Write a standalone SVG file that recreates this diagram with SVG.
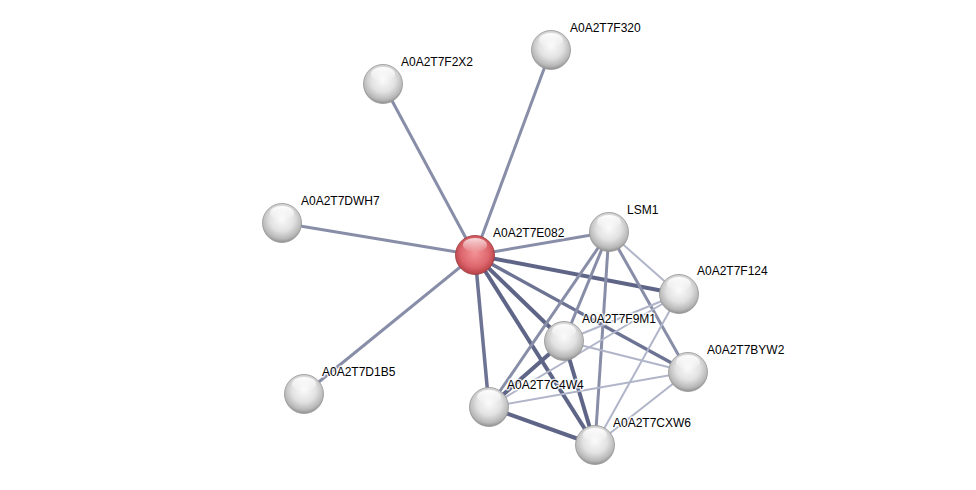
<svg xmlns="http://www.w3.org/2000/svg" width="976" height="490" viewBox="0 0 976 490">
<defs>
<radialGradient id="gw" cx="0.5" cy="0.4" r="0.62">
<stop offset="0" stop-color="#fbfbfb"/>
<stop offset="0.5" stop-color="#e2e2e2"/>
<stop offset="0.82" stop-color="#b8b8b8"/>
<stop offset="1" stop-color="#868686"/>
</radialGradient>
<radialGradient id="gr" cx="0.5" cy="0.45" r="0.6">
<stop offset="0" stop-color="#f29296"/>
<stop offset="0.6" stop-color="#dd666c"/>
<stop offset="0.88" stop-color="#bb454b"/>
<stop offset="1" stop-color="#8f2e33"/>
</radialGradient>
<linearGradient id="hl" x1="0" y1="0" x2="0" y2="1">
<stop offset="0" stop-color="#ffffff" stop-opacity="0.95"/>
<stop offset="1" stop-color="#ffffff" stop-opacity="0.05"/>
</linearGradient>
</defs>
<style>
.e{fill:none;stroke-linecap:butt}
.m{stroke:#898ea8;stroke-width:3}
.d{stroke:#5f6587;stroke-width:4}
.dm{stroke:#6d7393;stroke-width:3.5}
.l{stroke:#b1b5c9;stroke-width:2}
.nw{fill:url(#gw);stroke:#959595;stroke-width:0.8}
.nr{fill:url(#gr);stroke:#9a3a3f;stroke-width:0.8}
.h{fill:url(#hl)}
text{font-family:"Liberation Sans",Arial,sans-serif;font-size:12px;fill:#000;stroke:#ffffff;stroke-opacity:0.8;stroke-width:3;stroke-linejoin:round;paint-order:stroke}
</style>
<rect width="976" height="490" fill="#ffffff"/>
<g id="connectors">
<line class="e m" x1="475" y1="255" x2="551" y2="50"/>
<line class="e m" x1="475" y1="255" x2="383" y2="84"/>
<line class="e m" x1="475" y1="255" x2="282" y2="223"/>
<line class="e m" x1="475" y1="255" x2="304" y2="394"/>
<line class="e m" x1="475" y1="255" x2="609" y2="232"/>
<line class="e d" x1="475" y1="255" x2="679" y2="294"/>
<line class="e dm" x1="475" y1="255" x2="688" y2="372"/>
<line class="e d" x1="475" y1="255" x2="564" y2="341"/>
<line class="e d" x1="475" y1="255" x2="595" y2="445"/>
<line class="e dm" x1="475" y1="255" x2="489" y2="407"/>
<line class="e m" x1="609" y1="232" x2="489" y2="407"/>
<line class="e m" x1="609" y1="232" x2="564" y2="341"/>
<line class="e m" x1="609" y1="232" x2="595" y2="445"/>
<line class="e m" x1="609" y1="232" x2="688" y2="372"/>
<line class="e l" x1="609" y1="232" x2="679" y2="294"/>
<line class="e l" x1="679" y1="294" x2="564" y2="341"/>
<line class="e l" x1="679" y1="294" x2="489" y2="407"/>
<line class="e l" x1="679" y1="294" x2="595" y2="445"/>
<line class="e l" x1="564" y1="341" x2="688" y2="372"/>
<line class="e d" x1="564" y1="341" x2="489" y2="407"/>
<line class="e d" x1="564" y1="341" x2="595" y2="445"/>
<line class="e l" x1="688" y1="372" x2="489" y2="407"/>
<line class="e l" x1="688" y1="372" x2="595" y2="445"/>
<line class="e d" x1="489" y1="407" x2="595" y2="445"/>
</g>
<g id="n-F320"><circle class="nw" cx="551" cy="50" r="19.5"/><ellipse class="h" cx="551" cy="40" rx="12" ry="7"/><text x="570" y="32">A0A2T7F320</text></g>
<g id="n-F2X2"><circle class="nw" cx="383" cy="84" r="19.5"/><ellipse class="h" cx="383" cy="74" rx="12" ry="7"/><text x="401" y="66">A0A2T7F2X2</text></g>
<g id="n-DWH7"><circle class="nw" cx="282" cy="223" r="19.5"/><ellipse class="h" cx="282" cy="213" rx="12" ry="7"/><text x="301" y="205">A0A2T7DWH7</text></g>
<g id="n-D1B5"><circle class="nw" cx="304" cy="394" r="19.5"/><ellipse class="h" cx="304" cy="384" rx="12" ry="7"/><text x="322" y="376">A0A2T7D1B5</text></g>
<g id="n-E082"><circle class="nr" cx="475" cy="255" r="19.5"/><ellipse class="h" cx="475" cy="245" rx="12" ry="7" opacity="0.8"/><text x="493" y="237">A0A2T7E082</text></g>
<g id="n-LSM1"><circle class="nw" cx="609" cy="232" r="19.5"/><ellipse class="h" cx="609" cy="222" rx="12" ry="7"/><text x="627" y="214">LSM1</text></g>
<g id="n-F124"><circle class="nw" cx="679" cy="294" r="19.5"/><ellipse class="h" cx="679" cy="284" rx="12" ry="7"/><text x="697" y="275">A0A2T7F124</text></g>
<g id="n-F9M1"><circle class="nw" cx="564" cy="341" r="19.5"/><ellipse class="h" cx="564" cy="331" rx="12" ry="7"/><text x="582" y="323">A0A2T7F9M1</text></g>
<g id="n-BYW2"><circle class="nw" cx="688" cy="372" r="19.5"/><ellipse class="h" cx="688" cy="362" rx="12" ry="7"/><text x="707" y="354">A0A2T7BYW2</text></g>
<g id="n-C4W4"><circle class="nw" cx="489" cy="407" r="19.5"/><ellipse class="h" cx="489" cy="397" rx="12" ry="7"/><text x="507" y="389">A0A2T7C4W4</text></g>
<g id="n-CXW6"><circle class="nw" cx="595" cy="445" r="19.5"/><ellipse class="h" cx="595" cy="435" rx="12" ry="7"/><text x="613" y="427">A0A2T7CXW6</text></g>
</svg>
